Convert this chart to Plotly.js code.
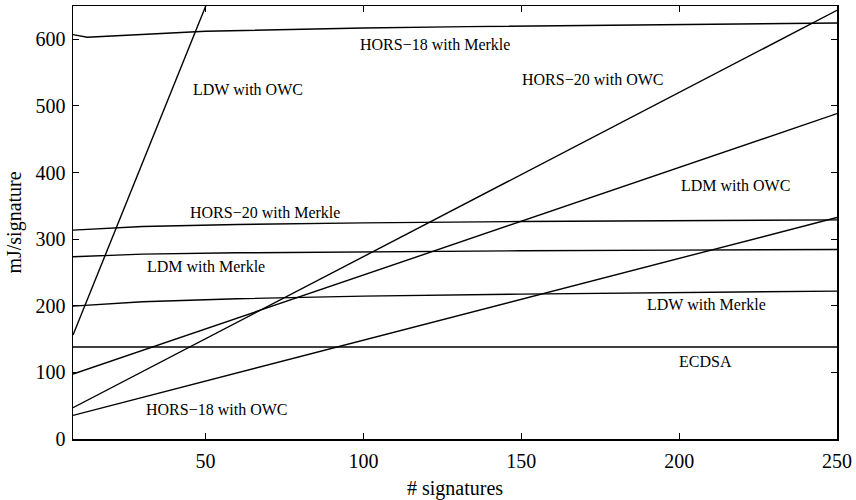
<!DOCTYPE html>
<html>
<head>
<meta charset="utf-8">
<script src="https://cdn.plot.ly/plotly-3.0.1.min.js"></script>
<style>html,body{margin:0;padding:0;background:#fff;}#chart{width:856px;height:500px;}</style>
</head>
<body>
<div id="chart"></div>
<script>
// Series
const hors18MerkleX = [8, 12.5, 50, 100, 133, 200, 250];
const hors18MerkleY = [607, 603, 612, 617, 619, 622.5, 624.5];

const ldwOwcX = [8, 25, 50.1, 60];
const ldwOwcY = [156, 356, 650, 767];

const hors20OwcX = [8, 250];
const hors20OwcY = [47, 643.5];

const ldmOwcX = [8, 250];
const ldmOwcY = [97.5, 488.5];

const hors18OwcX = [8, 250];
const hors18OwcY = [35.5, 332.5];

const merkleX = [8, 30, 60, 100, 150, 200, 250];
const hors20MerkleY = [313.5, 319, 322, 324.5, 326.5, 328, 329];
const ldmMerkleY = [273.5, 277.5, 279.5, 281, 282.5, 283.5, 284.5];
const ldwMerkleY = [199.5, 206, 210.5, 214.5, 217.5, 220, 222];

const ecdsaX = [8, 250];
const ecdsaY = [138, 138];

// Label texts and positions
const labelText = ["HORS\u221218 with Merkle", "LDW with OWC", "HORS\u221220 with OWC", "LDM with OWC",
  "HORS\u221220 with Merkle", "LDM with Merkle", "LDW with Merkle", "ECDSA", "HORS\u221218 with OWC"];
const labelX = [122.7, 63.5, 172.6, 218, 68.9, 50.2, 208.7, 208.3, 53.4];
const labelY = [592, 525, 540, 381, 340.5, 259.5, 202.5, 117, 45];

const xTicks = [50, 100, 150, 200, 250];
const yTicks = [0, 100, 200, 300, 400, 500, 600];

const lineStyle = {color: '#000', width: 1.4};
function tr(x, y) { return {x: x, y: y, mode: 'lines', line: lineStyle, hoverinfo: 'skip', showlegend: false}; }

const data = [
  tr(hors18MerkleX, hors18MerkleY),
  tr(ldwOwcX, ldwOwcY),
  tr(hors20OwcX, hors20OwcY),
  tr(ldmOwcX, ldmOwcY),
  tr(hors18OwcX, hors18OwcY),
  tr(merkleX, hors20MerkleY),
  tr(merkleX, ldmMerkleY),
  tr(merkleX, ldwMerkleY),
  tr(ecdsaX, ecdsaY)
];

const font = {family: '"Liberation Serif", "DejaVu Serif", serif', color: '#000'};

const annotations = labelText.map((t, i) => ({
  x: labelX[i], y: labelY[i], xref: 'x', yref: 'y', text: t, showarrow: false,
  font: Object.assign({}, font, {size: 16}), xanchor: 'center', yanchor: 'middle'
}));

const layout = {
  width: 856, height: 500,
  margin: {l: 72.7, r: 19, t: 6, b: 61},
  paper_bgcolor: '#fff', plot_bgcolor: '#fff',
  showlegend: false,
  font: Object.assign({}, font, {size: 20}),
  xaxis: {
    range: [8, 250], tickvals: xTicks, ticktext: xTicks.map(String),
    ticks: 'inside', ticklen: 6, tickwidth: 1, tickcolor: '#000',
    showline: true, linecolor: '#000', linewidth: 1.5, mirror: 'ticks',
    showgrid: false, zeroline: false, ticklabelstandoff: 3,
    tickfont: Object.assign({}, font, {size: 20}),
    title: {text: '# signatures', font: Object.assign({}, font, {size: 20}), standoff: 10}
  },
  yaxis: {
    range: [0, 650], tickvals: yTicks, ticktext: yTicks.map(String),
    ticks: 'inside', ticklen: 6, tickwidth: 1, tickcolor: '#000',
    showline: true, linecolor: '#000', linewidth: 1.5, mirror: 'ticks',
    showgrid: false, zeroline: false, ticklabelstandoff: 2,
    tickfont: Object.assign({}, font, {size: 20}),
    title: {text: 'mJ/signature', font: Object.assign({}, font, {size: 20}), standoff: 8}
  },
  annotations: annotations
};

Plotly.newPlot('chart', data, layout, {staticPlot: true, displayModeBar: false});
</script>
</body>
</html>
